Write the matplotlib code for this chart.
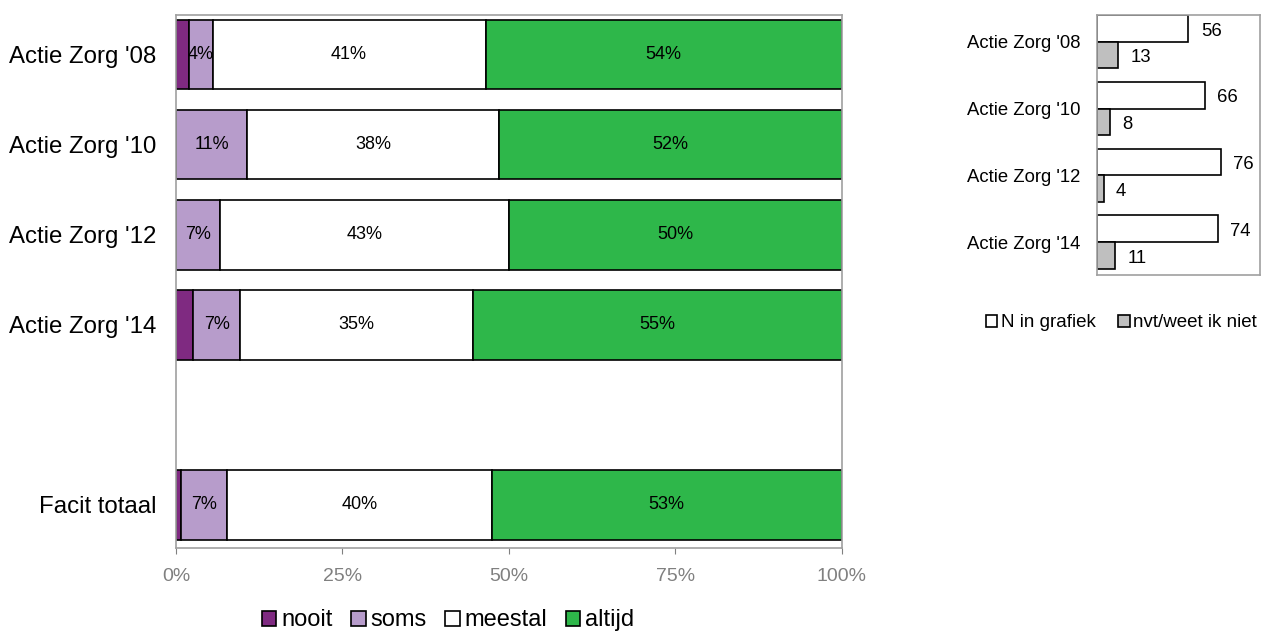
import matplotlib
matplotlib.use("Agg")
import matplotlib.pyplot as plt
import numpy as np

plt.rcParams['font.family'] = ['Liberation Sans', 'DejaVu Sans']

# data links: percentages per categorie
rijen = ["Actie Zorg '08", "Actie Zorg '10", "Actie Zorg '12", "Actie Zorg '14", "Facit totaal"]
posities = [0, 1, 2, 3, 5]
nooit = [1.9, 0.0, 0.0, 2.6, 0.8]
soms = [3.6, 10.7, 6.6, 7.0, 6.9]
meestal = [41.0, 37.8, 43.4, 35.0, 39.7]
altijd = [53.5, 51.5, 50.0, 55.4, 52.6]
reeksen = ["nooit", "soms", "meestal", "altijd"]
kleuren = ["#7F2A81", "#B79CCB", "#FFFFFF", "#2EB74A"]

# data rechts: aantallen
rijen_n = ["Actie Zorg '08", "Actie Zorg '10", "Actie Zorg '12", "Actie Zorg '14"]
n_grafiek = [56, 66, 76, 74]
n_nvt = [13, 8, 4, 11]

fig = plt.figure(figsize=(12.66, 6.33), dpi=100)

# linker grafiek
ax = fig.add_axes([0.139, 0.134, 0.526, 0.842])
links = np.zeros(len(rijen))
for naam, waarden, kleur in zip(reeksen, [nooit, soms, meestal, altijd], kleuren):
    ax.barh(posities, waarden, left=links, height=0.77, color=kleur,
            edgecolor="black", linewidth=1.2, label=naam)
    for p, l, w in zip(posities, links, waarden):
        if w >= 3:
            ax.text(l + w / 2, p, "{:.0f}%".format(w), ha="center", va="center",
                    fontsize=13, color="black")
    links = links + np.array(waarden)

ax.set_xlim(0, 100)
ax.set_ylim(5.48, -0.44)
ax.set_yticks(posities)
ax.set_yticklabels(rijen, fontsize=17.3)
ax.set_xticks([0, 25, 50, 75, 100])
ax.set_xticklabels(["0%", "25%", "50%", "75%", "100%"], fontsize=14, color="#808080")
ax.tick_params(axis="y", length=0, pad=14)
ax.tick_params(axis="x", length=4, color="#808080", pad=10)
for s in ax.spines.values():
    s.set_color("#A0A0A0")
    s.set_linewidth(1.2)

fig.legend(*ax.get_legend_handles_labels(), loc="center", bbox_to_anchor=(0.354, 0.02),
           ncol=4, frameon=False, fontsize=17, handlelength=0.6, handleheight=0.6,
           handletextpad=0.2, columnspacing=0.8, borderaxespad=0)

# rechter grafiek
ax2 = fig.add_axes([0.8665, 0.5656, 0.1288, 0.4107])
y = np.arange(len(rijen_n))
ax2.barh(y - 0.2, n_grafiek, height=0.4, color="white", edgecolor="black",
         linewidth=1.2, label="N in grafiek")
ax2.barh(y + 0.2, n_nvt, height=0.4, color="#BFBFBF", edgecolor="black",
         linewidth=1.2, label="nvt/weet ik niet")
for yy, v in zip(y, n_grafiek):
    ax2.annotate(str(v), (v, yy - 0.2), xytext=(9, -2), textcoords="offset points",
                 ha="left", va="center", fontsize=13.3)
for yy, v in zip(y, n_nvt):
    ax2.annotate(str(v), (v, yy + 0.2), xytext=(9, -2), textcoords="offset points",
                 ha="left", va="center", fontsize=13.3)
ax2.set_xlim(0, 100)
ax2.set_ylim(3.49, -0.40)
ax2.set_xticks([])
ax2.set_yticks(y)
ax2.set_yticklabels(rijen_n, fontsize=13.3)
ax2.tick_params(axis="y", length=0, pad=12)
for s in ax2.spines.values():
    s.set_color("#A0A0A0")
    s.set_linewidth(1.2)

fig.legend(*ax2.get_legend_handles_labels(), loc="center", bbox_to_anchor=(0.886, 0.49),
           ncol=2, frameon=False, fontsize=13.5, handlelength=0.6, handleheight=0.6,
           handletextpad=0.2, columnspacing=1.2, borderaxespad=0)

fig.savefig("out.png", dpi=100)
